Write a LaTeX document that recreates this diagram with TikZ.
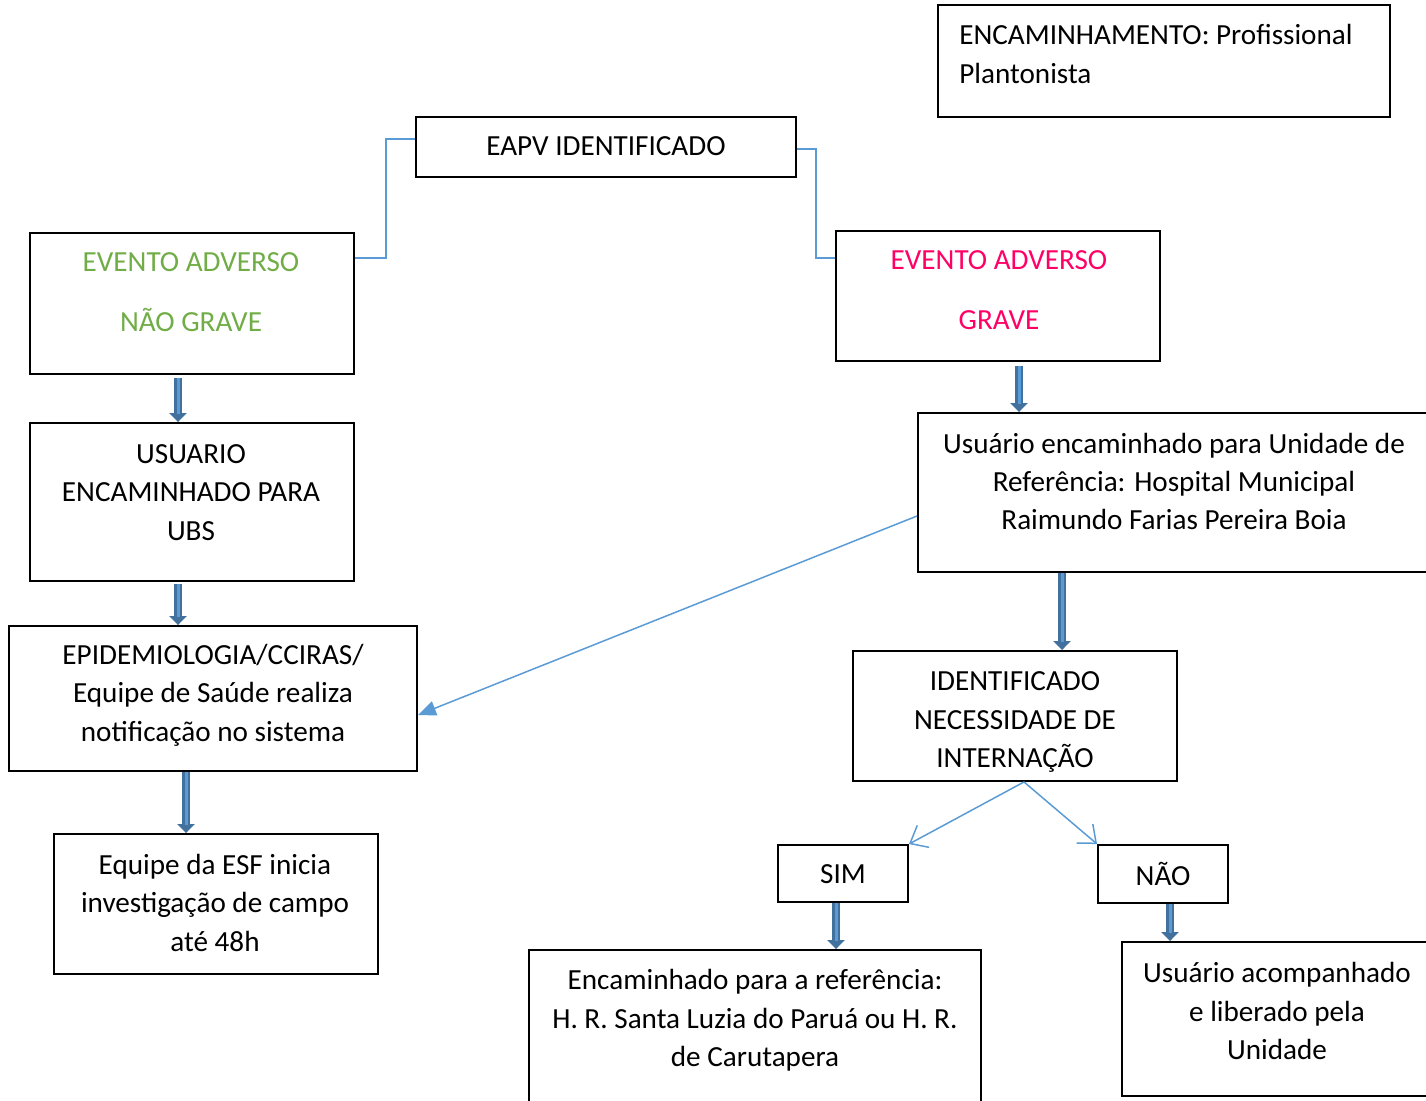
\documentclass[tikz,border=0pt]{standalone}
\usepackage{fontspec}
\setmainfont{Carlito}
\usetikzlibrary{arrows.meta}
\usetikzlibrary{positioning}

\definecolor{linkblue}{HTML}{5B9BD5}
\definecolor{blkdark}{HTML}{41719C}
\definecolor{ngreen}{HTML}{70AD47}
\definecolor{gpink}{HTML}{FF0066}
\newcommand{\boxfont}{\fontsize{16.6pt}{21.9pt}\selectfont}

\begin{document}
\begin{tikzpicture}[x=0.02cm, y=-0.02cm]
  \tikzset{box/.style = {draw, line width=1.1pt, minimum width=#1*0.02cm}}
  \tikzset{txt/.style = {align=center, inner sep=0pt, font=\boxfont}}
  \tikzset{link/.style = {draw=linkblue, line width=0.85pt}}
  \tikzset{blockarrow/.style = {draw=blkdark, line width=0.15cm,
      -{Triangle[length=0.18cm,width=0.34cm]},
      postaction={draw=linkblue, line width=0.06cm, -, shorten >=0.16cm}}}

  \useasboundingbox (0,0) rectangle (1426,1101);
  \clip (0,0) rectangle (1426,1101);

  \node[box=452, minimum height=2.24cm] (enc) at (1164,61) {};
  \node[txt, align=left, anchor=west] (enct) at (959,54)
  {ENCAMINHAMENTO: Profissional\\Plantonista};

  %%%%%%%%%%%%

  \node[box=380, minimum height=1.2cm] (eapv) at (606,147) {};
  \node[txt] (eapvt) at (606,146) {EAPV IDENTIFICADO};

  \node[box=324, minimum height=2.82cm] (ng) at (192,303.5) {};
  \node[txt, text=ngreen] (ngt) at (191,292)
  {EVENTO ADVERSO\\[0.43cm]NÃO GRAVE};

  \node[box=324, minimum height=2.6cm] (g) at (998,296) {};
  \node[txt, text=gpink] (gt) at (999,290)
  {EVENTO ADVERSO\\[0.43cm]GRAVE};

  \draw[link] ([yshift=0.16cm]eapv.west) -| ([xshift=0.62cm,yshift=-0.52cm]ng.north
  east) -- ([yshift=-0.52cm]ng.north east);
  \draw[link] ([yshift=-0.04cm]eapv.east) -| ([xshift=-0.38cm,yshift=-0.56cm]g.north
  west) -- ([yshift=-0.56cm]g.north west);

  %%%%%%%%%%%

  \node[box=324, minimum height=3.16cm] (usu) at (192,502) {};
  \node[txt] (usut) at (191,492.5) {USUARIO\\ENCAMINHADO PARA\\UBS};

  \node[box=408, minimum height=2.9cm] (epi) at (213,698.5) {};
  \node[txt] (epit) at (213,695)
  {EPIDEMIOLOGIA/CCIRAS/\\Equipe de Saúde realiza\\notificação no sistema};

  \node[box=324, minimum height=2.8cm] (esf) at (216,904) {};
  \node[txt] (esft) at (215,902.5)
  {Equipe da ESF inicia\\investigação de campo\\até 48h};

  \coordinate (a1) at ([xshift=-0.28cm,yshift=-0.06cm]ng.south);
  \coordinate (a2) at ([xshift=-0.28cm,yshift=-0.04cm]usu.south);
  \coordinate (a3) at ([xshift=-0.54cm]epi.south);
  \draw[blockarrow] (a1) -- (a1 |- usu.north);
  \draw[blockarrow] (a2) -- (a2 |- epi.north);
  \draw[blockarrow] (a3) -- (a3 |- esf.north);

  %%%%%%%%%%%

  \node[box=512, minimum height=3.18cm] (ue) at (1174,492.5) {};
  \node[txt] (uet) at (1174,481.5)
  {Usuário encaminhado para Unidade de\\Referência: Hospital Municipal\\Raimundo
    Farias Pereira Boia};

  \node[box=324, minimum height=2.6cm] (id) at (1015,716) {};
  \node[txt] (idt) at (1015,722) {IDENTIFICADO\\NECESSIDADE DE\\INTERNAÇÃO};

  \coordinate (a4) at ([xshift=0.42cm,yshift=-0.08cm]g.south);
  \coordinate (a5) at ([xshift=-2.24cm]ue.south);
  \draw[blockarrow] (a4) -- (a4 |- ue.north);
  \draw[blockarrow] (a5) -- (a5 |- id.north);

  \draw[link, -{Triangle[length=0.36cm,width=0.3cm]}] ([yshift=-0.47cm]ue.west) --
  ([yshift=-0.33cm]epi.east);

  %%%%%%%%%%%

  \node[box=130, minimum height=1.14cm] (sim) at (843,873.5) {};
  \node[txt] (simt) at (843,874) {SIM};

  \node[box=130, minimum height=1.16cm] (nao) at (1163,874) {};
  \node[txt] (naot) at (1163,874) {NÃO};

  \draw[link, -{Straight Barb[length=0.3cm,width=0.5cm]}] ([xshift=0.18cm]id.south)
  -- (sim.north east);
  \draw[link, -{Straight Barb[length=0.3cm,width=0.5cm]}] ([xshift=0.18cm]id.south)
  -- (nao.north west);

  \node[box=452, minimum height=3.2cm] (ref) at (755,1030) {};
  \node[txt] (reft) at (755,1020.5)
  {Encaminhado para a referência:\\H. R. Santa Luzia do Paruá ou H. R.\\de Carutapera};

  \node[box=310, minimum height=3.08cm] (lib) at (1277,1019) {};
  \node[txt] (libt) at (1277,1011)
  {Usuário acompanhado\\e liberado pela\\Unidade};

  \coordinate (a6) at ([xshift=-0.14cm]sim.south);
  \coordinate (a7) at ([xshift=0.14cm]nao.south);
  \draw[blockarrow] (a6) -- (a6 |- ref.north);
  \draw[blockarrow] (a7) -- (a7 |- lib.north);

\end{tikzpicture}
\end{document}
